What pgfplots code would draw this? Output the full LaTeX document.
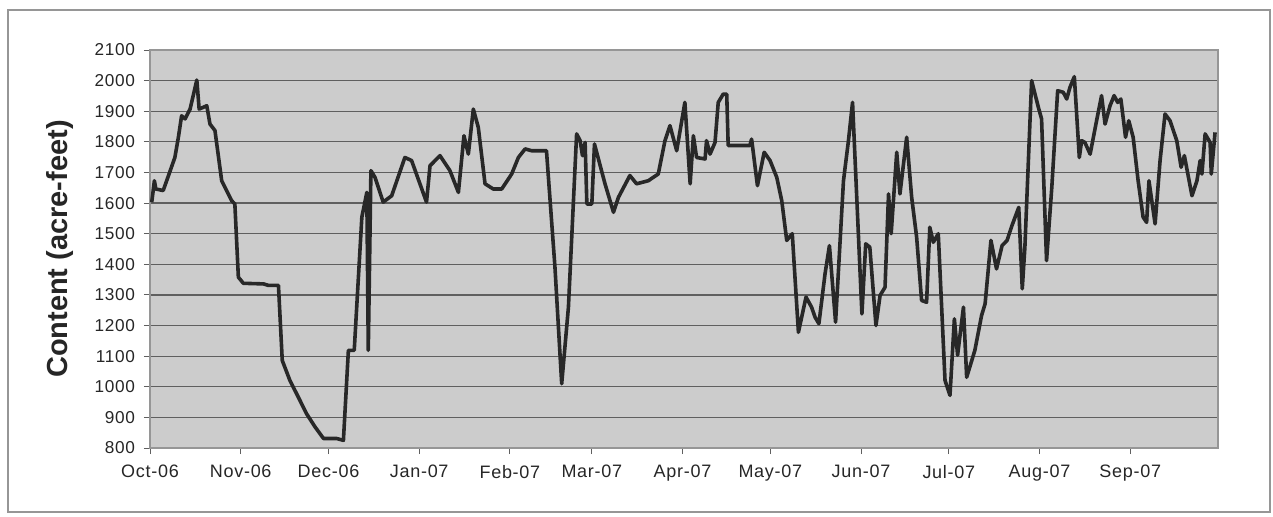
\documentclass[border=0pt]{standalone}
\usepackage{pgfplots}
\pgfplotsset{compat=1.18}
\usepackage{fontspec}
\setmainfont{Liberation Sans}
\newfontfamily\tickfont[LetterSpace=4]{Liberation Sans}
\pgfplotstableread{
d v
0.6 1603
1.5 1673
2 1646
4.5 1641
5.7 1673
8.5 1749
9.7 1815
10.8 1885
12 1875
13.7 1907
16 2002
16.8 1907
19.4 1918
20.5 1858
22.2 1837
24.5 1673
27.9 1608
29 1597
30.2 1358
31.9 1338
38.8 1336
40.5 1331
43.9 1331
45.2 1086
47.8 1021
50.7 966
53.5 912
56.4 869
59.3 831
63.8 831
66.1 825
67.8 1119
69.8 1119
72.4 1554
74.1 1635
74.6 1119
75.5 1706
76.9 1684
79.7 1603
82.6 1624
87.1 1749
89.4 1739
94.5 1603
95.7 1722
99.1 1755
102.5 1706
105.4 1635
107.3 1820
108.8 1760
110.5 1907
112.2 1847
114.5 1663
117.3 1646
120.2 1646
123.6 1695
125.9 1749
128.2 1777
130.4 1771
135.5 1771
138.4 1390
140.7 1010
143 1260
145.8 1826
147 1804
147.8 1755
148.7 1798
149.3 1597
151 1597
151.9 1793
155.5 1663
158.4 1570
160.1 1619
164 1690
166.3 1663
170.3 1673
173.7 1695
176 1804
177.7 1853
180 1771
182.8 1929
184.6 1663
185.7 1820
186.8 1749
189.7 1744
190.2 1804
191.4 1760
193.1 1798
194.2 1929
195.9 1956
197.1 1956
197.6 1788
205 1788
205.6 1809
207.6 1657
209.9 1766
211.9 1739
214.2 1684
215.9 1608
217.6 1478
219.5 1500
221.6 1178
224.2 1293
226.1 1260
227.3 1227
228.6 1206
230.7 1369
232.2 1461
234.3 1211
237 1673
238.7 1804
240.1 1929
243.3 1238
244.6 1467
246 1456
248.1 1200
249.5 1298
251.2 1325
252.4 1630
253.3 1500
255.2 1766
256.3 1630
258.6 1815
260.3 1619
262 1489
263.7 1282
265.4 1276
266.5 1521
267.7 1472
269.4 1500
271.7 1021
273.4 972
274.9 1222
276 1103
278 1260
279.1 1031
281.9 1119
284.2 1233
285.4 1271
287.4 1478
289.3 1385
291.2 1461
292.9 1478
294.6 1527
296.9 1586
298.1 1320
299 1456
301.3 2000
303.6 1913
304.7 1875
306.4 1412
308.2 1652
310.2 1967
312.1 1962
313.3 1940
314.4 1978
315.9 2013
317.6 1749
318.4 1804
319.5 1798
321.3 1760
323.5 1869
325.2 1951
326.4 1858
328.1 1918
329.5 1951
330.7 1929
331.8 1940
333.4 1815
334.5 1869
336 1815
337.7 1673
339.4 1554
340.6 1537
341.4 1673
343.5 1532
345.2 1739
346.9 1891
348.6 1869
350.9 1804
352.4 1717
353.5 1755
356.1 1624
357.8 1673
358.9 1739
359.5 1695
360.6 1826
362.3 1798
362.7 1695
364 1831
}\contentdata
\definecolor{plotbg}{RGB}{204,204,204}
\definecolor{gridc}{RGB}{95,95,95}
\definecolor{linec}{RGB}{40,40,40}
\definecolor{framec}{RGB}{150,150,150}
\begin{document}
\begin{tikzpicture}
\useasboundingbox (0,0) rectangle (636.5pt,258pt);
\draw[framec, line width=0.6pt] (4pt,2pt) rectangle (635pt,253pt);
\begin{axis}[
  scale only axis,
  width=534pt, height=199pt,
  at={(75pt,34pt)}, anchor=south west,
  xmin=0, xmax=365,
  ymin=800, ymax=2100,
  ytick={800,900,...,2100},
  xtick={0,31,61,92,123,151,182,212,243,273,304,335},
  xticklabels={Oct-06,Nov-06,Dec-06,Jan-07,Feb-07,Mar-07,Apr-07,May-07,Jun-07,Jul-07,Aug-07,Sep-07},
  /pgf/number format/assume math mode=true,
  /pgf/number format/1000 sep={},
  tick label style={text=black!85},
  xticklabel style={font=\tickfont\fontsize{9}{10}\selectfont, yshift=-2pt},
  yticklabel style={font=\tickfont\fontsize{8.6}{10}\selectfont, xshift=-1pt},
  tick align=outside,
  major tick length=3pt,
  tick style={gridc, line width=0.5pt},
  xtick pos=bottom, ytick pos=left,
  ymajorgrids,
  major grid style={gridc, line width=0.6pt},
  axis line style={framec, line width=0.7pt},
  axis background/.style={fill=plotbg},
  ylabel={\fontsize{14.5}{16}\selectfont\bfseries Content (acre-feet)},
  ylabel style={text=black!85, at={(axis description cs:-0.0843,0.5)}, anchor=center},
]
\addplot[linec, line width=1.8pt, line join=round, mark=none] table[x=d, y=v] {\contentdata};
\end{axis}
\end{tikzpicture}
\end{document}
